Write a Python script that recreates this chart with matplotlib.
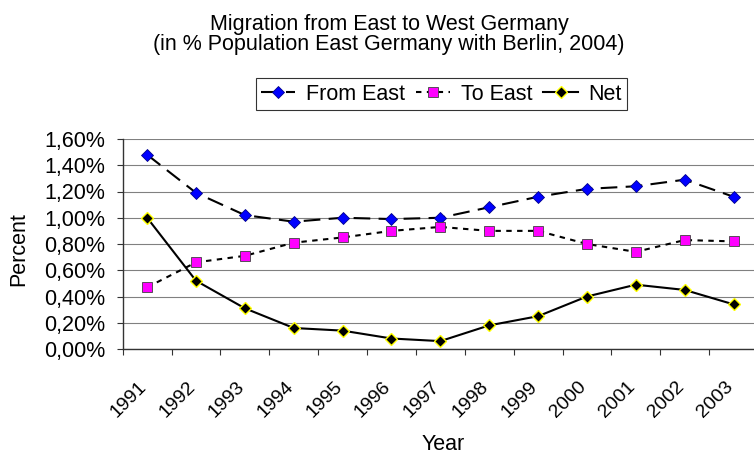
import numpy as np
import matplotlib
matplotlib.use('Agg')
import matplotlib.pyplot as plt
from matplotlib.ticker import FixedLocator

plt.rcParams['font.family'] = ['Liberation Sans', 'DejaVu Sans']

years = ['1991', '1992', '1993', '1994', '1995', '1996', '1997',
         '1998', '1999', '2000', '2001', '2002', '2003']
from_east = [1.48, 1.19, 1.02, 0.97, 1.00, 0.99, 1.00, 1.08, 1.16, 1.22, 1.24, 1.29, 1.16]
to_east = [0.47, 0.66, 0.71, 0.81, 0.85, 0.90, 0.93, 0.90, 0.90, 0.80, 0.74, 0.83, 0.82]
net = [1.00, 0.52, 0.31, 0.16, 0.14, 0.08, 0.06, 0.18, 0.25, 0.40, 0.49, 0.45, 0.34]
yticks = [0.0, 0.2, 0.4, 0.6, 0.8, 1.0, 1.2, 1.4, 1.6]

W, H = 754, 459
fig = plt.figure(figsize=(W / 100, H / 100), dpi=100)
# plot area runs a bit past the right edge, like the source
ax = fig.add_axes([122.7 / W, 1 - 349 / H, (758 - 122.7) / W, 210 / H])

x = np.arange(len(years))
fs = 15.5

ax.plot(x, from_east, color='black', lw=1.5, dashes=(8, 4),
        marker='D', ms=6.5, mfc='#0000FF', mec='#00008B', mew=0.6, label='From East')
ax.plot(x, to_east, color='black', lw=1.5, dashes=(2.6, 2.6),
        marker='s', ms=6.5, mfc='#FF00FF', mec='#404040', mew=0.6, label='To East')
ax.plot(x, net, color='black', lw=1.5,
        marker='D', ms=6.5, mfc='black', mec='#FFFF00', mew=1.0, label='Net')

ax.set_xlim(-0.5, len(years) - 0.5)
ax.set_ylim(0, 1.6)

ax.set_yticks(yticks)
ax.set_yticklabels([('%.2f%%' % v).replace('.', ',') for v in yticks], fontsize=fs)
ax.tick_params(axis='y', direction='out', length=4.3, width=0.8, color='#333333', pad=8)

# year labels on the category centres, tick marks between categories
ax.set_xticks(x)
ax.set_xticklabels(years, rotation=45, ha='right', va='baseline',
                   rotation_mode='anchor', fontsize=14)
ax.tick_params(axis='x', which='major', length=0, pad=27.5)
ax.xaxis.set_minor_locator(FixedLocator(np.arange(-0.5, len(years), 1.0)))
ax.tick_params(axis='x', which='minor', direction='out', length=4.3, width=0.8,
               color='#333333')

ax.grid(axis='y', color='#808080', lw=0.8)
ax.set_axisbelow(True)
for s in ['top', 'right']:
    ax.spines[s].set_visible(False)
for s in ['left', 'bottom']:
    ax.spines[s].set_color('#333333')
    ax.spines[s].set_linewidth(1.0)

fig.text(389 / W, 1 - 30 / H, 'Migration from East to West Germany',
         ha='center', va='baseline', fontsize=fs)
fig.text(389 / W, 1 - 50 / H, '(in % Population East Germany with Berlin, 2004)',
         ha='center', va='baseline', fontsize=fs)
fig.text(19 / W, 1 - 249 / H, 'Percent', rotation=90, ha='center', va='center', fontsize=fs)
fig.text(443 / W, 1 - 445 / H, 'Year', ha='center', va='center', fontsize=fs)

leg = ax.legend(loc='center', bbox_to_anchor=(441.5 / W, 1 - 94 / H),
                bbox_transform=fig.transFigure, ncol=3, fontsize=fs,
                frameon=True, fancybox=False, handlelength=1.6, handletextpad=0.5,
                columnspacing=0.5, borderpad=0.25, borderaxespad=0)
leg.get_frame().set_edgecolor('black')
leg.get_frame().set_linewidth(0.8)

fig.savefig('out.png', dpi=100)
